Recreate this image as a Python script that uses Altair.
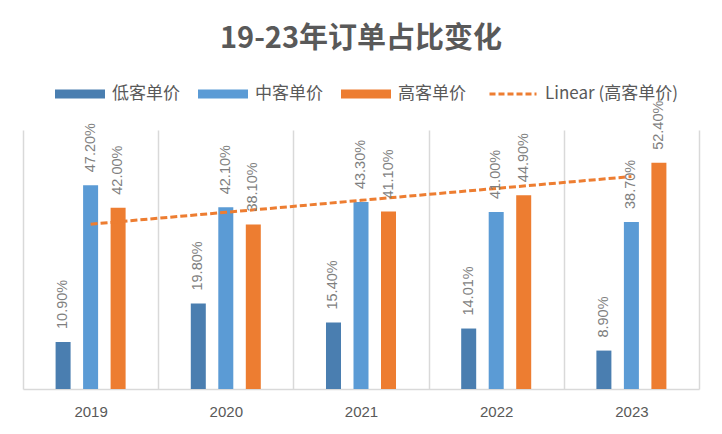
import altair as alt
import numpy as np
import pandas as pd

years = ["2019", "2020", "2021", "2022", "2023"]
series = ["低客单价", "中客单价", "高客单价"]
low = [10.90, 19.80, 15.40, 14.01, 8.90]
mid = [47.20, 42.10, 43.30, 41.00, 38.70]
high = [42.00, 38.10, 41.10, 44.90, 52.40]
colors = ["#4a7eb0", "#5b9bd5", "#ed7d31"]
trend_name = "Linear (高客单价)"
title_text = "19-23年订单占比变化"
# empty slots either side of each year's group of bars
offset_slots = ["_pad_left"] + series + ["_pad_right"]

rows = []
for i, yr in enumerate(years):
    for s, vals in zip(series, [low, mid, high]):
        rows.append({"year": yr, "series": s, "value": vals[i], "label": f"{vals[i]:.2f}%"})
df = pd.DataFrame(rows)

idx = np.arange(len(years))
slope, intercept = np.polyfit(idx, high, 1)
trend = pd.DataFrame({"year": years, "value": intercept + slope * idx, "name": trend_name})

CJK = "Noto Sans CJK SC"
LAT = "Liberation Sans"

x_enc = alt.X(
    "year:N",
    sort=years,
    scale=alt.Scale(paddingInner=0, paddingOuter=0),
    axis=alt.Axis(
        title=None, tickBand="extent", grid=True, gridColor="#d9d9d9", gridWidth=1.5,
        domainColor="#d9d9d9", domainWidth=1.5, ticks=False, labelAngle=0,
        labelFont=LAT, labelFontSize=15, labelColor="#595959", labelPadding=15,
    ),
)
y_enc = alt.Y("value:Q", scale=alt.Scale(domain=[0, 60], nice=False), axis=None)
xoff = alt.XOffset(
    "series:N",
    scale=alt.Scale(domain=offset_slots, paddingInner=0.4545, paddingOuter=0.185),
)

bars = alt.Chart(df).mark_bar().encode(
    x=x_enc,
    xOffset=xoff,
    y=y_enc,
    color=alt.Color(
        "series:N",
        sort=series,
        scale=alt.Scale(domain=series, range=colors),
        legend=alt.Legend(
            orient="none", legendX=32, legendY=-61, direction="horizontal", title=None,
            symbolType="M-1,-0.18H1V0.18H-1Z", symbolSize=2500, symbolStrokeWidth=0,
            labelFont=CJK, labelFontSize=17, labelColor="#595959",
            columnPadding=18, labelOffset=7, padding=0,
        ),
    ),
)

labels = alt.Chart(df).mark_text(
    angle=270, align="left", baseline="middle", dx=13,
    font=LAT, fontSize=14.5, color="#7f7f7f",
).encode(
    x=alt.X("year:N", sort=years),
    xOffset=xoff,
    y=y_enc,
    text="label:N",
)

line = alt.Chart(trend).mark_line(strokeDash=[7, 3], strokeWidth=3).encode(
    x=alt.X("year:N", sort=years),
    y=y_enc,
    stroke=alt.Stroke(
        "name:N",
        scale=alt.Scale(domain=[trend_name], range=["#ed7d31"]),
        legend=alt.Legend(
            orient="none", legendX=465, legendY=-61, title=None,
            symbolType="stroke", symbolSize=2209, symbolStrokeWidth=3, symbolDash=[6, 3],
            labelFont=CJK, labelFontSize=17, labelColor="#595959",
            labelOffset=7, padding=0,
        ),
    ),
)

chart = alt.layer(bars, line, labels).properties(
    width=676,
    height=259,
    title=alt.Title(
        title_text, font=CJK, fontSize=29, fontWeight="bold", color="#595959",
        anchor="middle", offset=15,
    ),
    autosize=alt.AutoSizeParams(type="none"),
    padding={"left": 15, "top": 122, "right": 15, "bottom": 35},
    background="white",
).configure_view(stroke=None)

chart.save("out.html", embed_options={"renderer": "svg", "actions": False})
